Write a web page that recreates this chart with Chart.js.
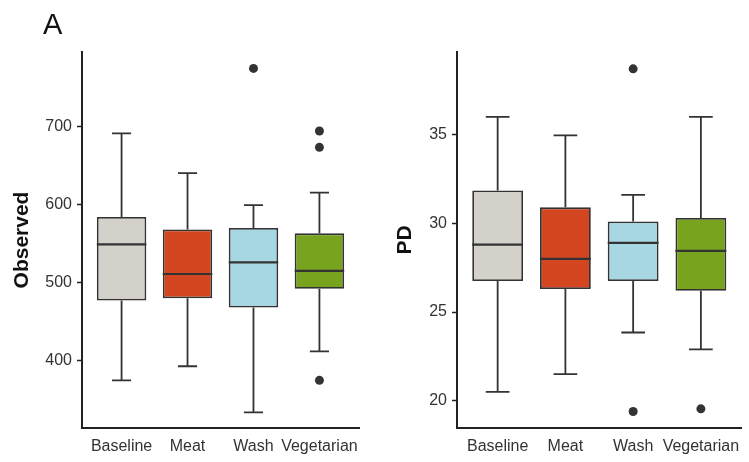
<!DOCTYPE html>
<html>
<head>
<meta charset="utf-8">
<script src="https://cdn.jsdelivr.net/npm/chart.js@4"></script>
<style>
  body { margin: 0; background: #fff; }
  #wrap { position: relative; width: 749px; height: 462px; }
  #left { position: absolute; left: 0; top: 0; }
  #right { position: absolute; left: 375px; top: 0; }
  #tag { position: absolute; left: 43px; top: 10px; font: 29px "Liberation Sans", Arial, sans-serif; line-height: 29px; color: #111; }
</style>
</head>
<body>
<div id="wrap">
  <canvas id="left" width="375" height="462"></canvas>
  <canvas id="right" width="374" height="462"></canvas>
  <div id="tag">A</div>
</div>
<script>
// groups on the x axis
const groups = ['Baseline', 'Meat', 'Wash', 'Vegetarian'];
const fills = ['#d4d1cb', '#d3461f', '#a6d7e3', '#77a31f'];

// Observed (left panel)
const obsLow  = [375, 393, 334, 412];
const obsQ1   = [477, 480, 468, 492];
const obsMed  = [549, 511, 526, 515];
const obsQ3   = [584, 568, 570, 563];
const obsHigh = [691, 640, 599, 615];
const obsOut  = [[], [], [774], [694, 673, 375]];
const obsTicks = [400, 500, 600, 700];

// PD (right panel)
const pdLow  = [20.5, 21.5, 23.85, 22.9];
const pdQ1   = [26.75, 26.3, 26.75, 26.2];
const pdMed  = [28.8, 28.0, 28.9, 28.45];
const pdQ3   = [31.85, 30.9, 30.1, 30.3];
const pdHigh = [36.0, 34.95, 31.6, 36.0];
const pdOut  = [[], [], [38.7, 19.4], [19.55]];
const pdTicks = [20, 25, 30, 35];

const FONT = '"Liberation Sans", Arial, sans-serif';
const INK = '#333333';

// whiskers behind the boxes, medians on top
const boxParts = {
    id: 'boxParts',
    beforeDatasetsDraw(chart, args, opts) {
        const ctx = chart.ctx;
        const xs = chart.scales.x, ys = chart.scales.y;
        ctx.save();
        ctx.strokeStyle = INK;
        ctx.lineWidth = 1.8;
        opts.low.forEach((lo, i) => {
            const x = xs.getPixelForValue(i + 1);
            const cap = xs.getPixelForValue(i + 1 + opts.cap) - x;
            ctx.beginPath();
            ctx.moveTo(x, ys.getPixelForValue(lo));
            ctx.lineTo(x, ys.getPixelForValue(opts.q1[i]));
            ctx.moveTo(x, ys.getPixelForValue(opts.q3[i]));
            ctx.lineTo(x, ys.getPixelForValue(opts.high[i]));
            ctx.moveTo(x - cap, ys.getPixelForValue(lo));
            ctx.lineTo(x + cap, ys.getPixelForValue(lo));
            ctx.moveTo(x - cap, ys.getPixelForValue(opts.high[i]));
            ctx.lineTo(x + cap, ys.getPixelForValue(opts.high[i]));
            ctx.stroke();
        });
        ctx.restore();
    },
    afterDatasetsDraw(chart, args, opts) {
        const ctx = chart.ctx;
        const ys = chart.scales.y;
        const bars = chart.getDatasetMeta(0).data;
        ctx.save();
        ctx.strokeStyle = INK;
        ctx.lineWidth = 2.2;
        opts.med.forEach((m, i) => {
            const b = bars[i];
            const y = ys.getPixelForValue(m);
            ctx.beginPath();
            ctx.moveTo(b.x - b.width / 2, y);
            ctx.lineTo(b.x + b.width / 2, y);
            ctx.stroke();
        });
        ctx.restore();
    }
};

const makeBox = (id, title, low, q1, med, q3, high, out, ticks, yMin, yMax, padRight, titlePad, cap) => {
    const outPts = [];
    out.forEach((vals, i) => vals.forEach(v => outPts.push({x: i + 1, y: v})));

    new Chart(document.getElementById(id), {
        type: 'bar',
        data: {
            datasets: [{
                type: 'bar',
                data: groups.map((g, i) => ({x: i + 1, y: [q1[i], q3[i]]})),
                backgroundColor: fills,
                borderColor: INK,
                borderWidth: 1.8,
                borderSkipped: false,
                categoryPercentage: 1,
                barPercentage: 0.75
            }, {
                type: 'scatter',
                data: outPts,
                backgroundColor: INK,
                borderColor: INK,
                pointRadius: 4.5,
                borderWidth: 0
            }]
        },
        plugins: [boxParts],
        options: {
            responsive: false,
            animation: false,
            devicePixelRatio: 1,
            layout: {padding: {top: 52, right: padRight, left: 0, bottom: 0}},
            plugins: {
                legend: {display: false},
                tooltip: {enabled: false},
                boxParts: {low: low, q1: q1, med: med, q3: q3, high: high, cap: cap}
            },
            scales: {
                x: {
                    type: 'linear',
                    min: 0.4,
                    max: 4.6,
                    offset: false,
                    afterBuildTicks: (s) => { s.ticks = groups.map((g, i) => ({value: i + 1})); },
                    afterFit: (s) => { s.height = 34; },
                    ticks: {
                        callback: (v) => groups[Math.round(v) - 1],
                        color: '#333',
                        font: {family: FONT, size: 16},
                        padding: 9,
                        maxRotation: 0,
                        autoSkip: false
                    },
                    grid: {display: true, drawOnChartArea: false, drawTicks: false},
                    border: {display: true, color: '#222', width: 2}
                },
                y: {
                    min: yMin,
                    max: yMax,
                    afterBuildTicks: (s) => { s.ticks = ticks.map(v => ({value: v})); },
                    afterFit: (s) => { s.width = 82; },
                    ticks: {
                        color: '#333',
                        font: {family: FONT, size: 16},
                        padding: 5
                    },
                    grid: {drawOnChartArea: false, drawTicks: true, tickLength: 5, color: '#222', tickColor: '#222', tickWidth: 1.5},
                    border: {display: true, color: '#222', width: 2},
                    title: {
                        display: true,
                        text: title,
                        color: '#111',
                        font: {family: FONT, size: 21, weight: 'bold'},
                        padding: {top: titlePad, bottom: 0}
                    }
                }
            }
        }
    });
};

makeBox('left', 'Observed', obsLow, obsQ1, obsMed, obsQ3, obsHigh, obsOut, obsTicks, 314, 795, 16, 10, 0.145);
makeBox('right', 'PD', pdLow, pdQ1, pdMed, pdQ3, pdHigh, pdOut, pdTicks, 18.47, 39.65, 6, 18, 0.175);
</script>
</body>
</html>
